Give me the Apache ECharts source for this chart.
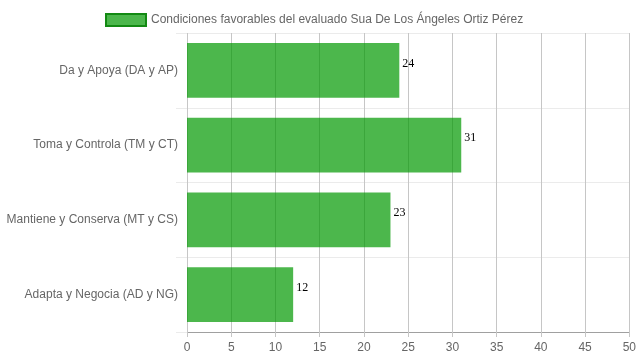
<!DOCTYPE html>
<html><head><meta charset="utf-8">
<script src="https://cdn.jsdelivr.net/npm/echarts@6/dist/echarts.min.js"></script>
<style>html,body{margin:0;padding:0;background:#fff}#c{width:639px;height:360px}</style>
</head><body><div id="c"></div>
<script>
const categories = ["Da y Apoya (DA y AP)", "Toma y Controla (TM y CT)", "Mantiene y Conserva (MT y CS)", "Adapta y Negocia (AD y NG)"];
const values = [24, 31, 23, 12];
const seriesName = "Condiciones favorables del evaluado Sua De Los Ángeles Ortiz Pérez";
const xMin = 0, xMax = 50, xStep = 5;

const chart = echarts.init(document.getElementById('c'), null, {renderer: 'canvas'});
chart.setOption({
  animation: false,
  textStyle: {fontFamily: 'Liberation Sans, Arial, sans-serif'},
  legend: {
    left: 100, top: 8,
    itemWidth: 40, itemHeight: 12, itemGap: 10,
    icon: 'rect',
    textStyle: {color: '#666', fontSize: 12, fontFamily: 'Liberation Sans, Arial, sans-serif'},
    itemStyle: {color: 'rgba(0,153,0,0.7)', borderColor: '#138a13', borderWidth: 2, opacity: 1},
    data: [seriesName]
  },
  grid: {left: 187, right: 9, top: 33, bottom: 28, containLabel: false},
  xAxis: {
    type: 'value', min: xMin, max: xMax, interval: xStep,
    axisLine: {show: true, lineStyle: {color: '#a0a0a0', width: 1}},
    axisTick: {show: true, length: 5, lineStyle: {color: '#c6c6c6'}},
    axisLabel: {color: '#666', fontSize: 12, margin: 10, fontFamily: 'Liberation Sans, Arial, sans-serif'},
    splitLine: {show: true, lineStyle: {color: '#c6c6c6', width: 1}}
  },
  yAxis: {
    type: 'category', data: categories, inverse: true,
    axisLine: {show: false},
    axisTick: {show: true, length: 11, lineStyle: {color: '#ebebeb'}},
    axisLabel: {color: '#666', fontSize: 12, margin: 9, fontFamily: 'Liberation Sans, Arial, sans-serif'},
    splitLine: {show: true, lineStyle: {color: '#ebebeb', width: 1}}
  },
  series: [{
    name: seriesName,
    type: 'bar',
    data: values,
    barCategoryGap: '27%',
    itemStyle: {color: 'rgba(0,153,0,0.7)'},
    label: {show: true, position: 'right', distance: 3, offset: [0, -7], color: '#000', fontSize: 12,
      fontFamily: 'Liberation Serif, Times New Roman, serif'}
  }]
});
</script></body></html>
